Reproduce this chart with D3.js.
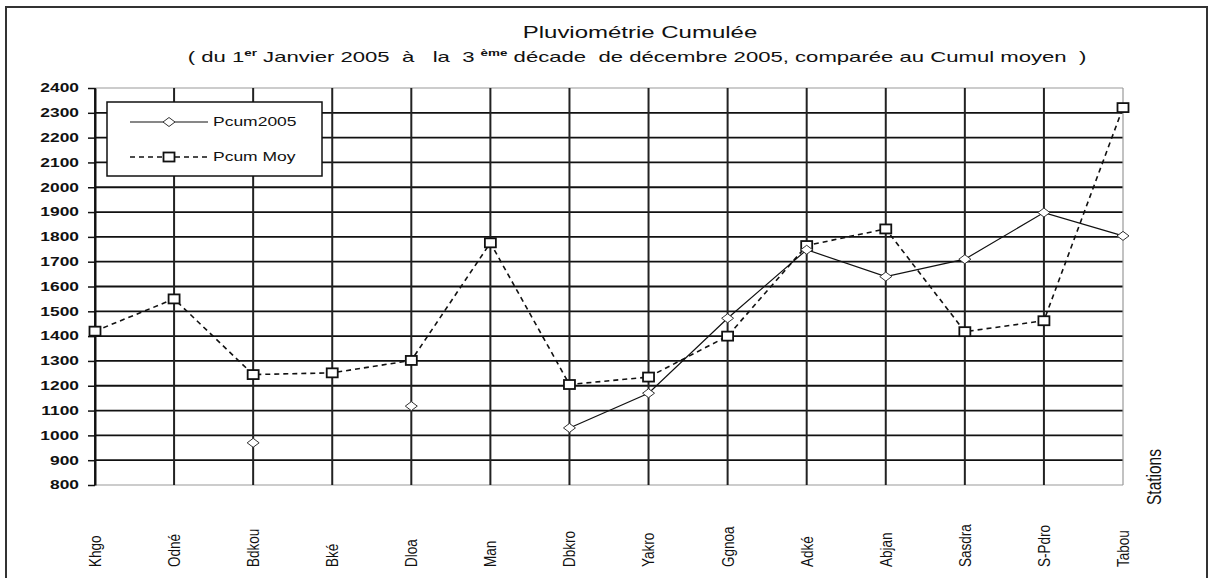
<!DOCTYPE html>
<html>
<head>
<meta charset="utf-8">
<script src="https://cdn.jsdelivr.net/npm/d3@7"></script>
<style>
  html, body { margin: 0; padding: 0; background: #fff; }
  svg { display: block; font-family: "Liberation Sans", Arial, sans-serif; }
</style>
</head>
<body>
<svg id="chart" width="1210" height="578"></svg>
<script>
const categories = ["Khgo","Odné","Bdkou","Bké","Dloa","Man","Dbkro","Yakro","Ggnoa","Adké","Abjan","Sasdra","S-Pdro","Tabou"];
const pcum2005 = [null, null, 970, null, 1118, null, 1030, 1170, 1472, 1748, 1640, 1710, 1898, 1804];
const pcumMoy = [1420, 1550, 1245, 1252, 1302, 1776, 1205, 1235, 1400, 1765, 1832, 1418, 1462, 2321];
const yTicks = [800, 900, 1000, 1100, 1200, 1300, 1400, 1500, 1600, 1700, 1800, 1900, 2000, 2100, 2200, 2300, 2400];
const seriesNames = ["Pcum2005", "Pcum Moy"];
const axisTitle = "Stations";
const titleText = "Pluviométrie Cumulée";

const SX = 1.45;
const svg = d3.select("#chart");

// outer frame
svg.append("rect").attr("x", 6).attr("y", 7).attr("width", 1201).attr("height", 580)
  .attr("fill", "#fff").attr("stroke", "#333").attr("stroke-width", 2);

const x = d3.scalePoint().domain(categories).range([95, 1123]);
const y = d3.scaleLinear().domain([800, 2400]).range([485, 88]);

// horizontal grid
svg.append("g").selectAll("line").data(yTicks).join("line")
  .attr("x1", 95).attr("x2", 1123)
  .attr("y1", d => y(d)).attr("y2", d => y(d))
  .attr("stroke", d => (d === 800 || d === 2400) ? "#999" : "#111")
  .attr("stroke-width", d => (d === 800 || d === 2400) ? 1.2 : 1.8);

// vertical grid
svg.append("g").selectAll("line").data(categories).join("line")
  .attr("x1", d => x(d)).attr("x2", d => x(d))
  .attr("y1", y(2400)).attr("y2", y(800))
  .attr("stroke", (d, i) => i === categories.length - 1 ? "#999" : "#222")
  .attr("stroke-width", (d, i) => i === categories.length - 1 ? 1.2 : 2);

// y axis
const yAxis = d3.axisLeft(y).tickValues(yTicks).tickFormat(d3.format("d"))
  .tickSize(7).tickSizeOuter(0).tickPadding(0);
const gy = svg.append("g").attr("transform", "translate(95,0)").call(yAxis);
gy.select(".domain").attr("stroke", "#111").attr("stroke-width", 2);
gy.selectAll(".tick line").attr("stroke", "#111").attr("stroke-width", 1.5);
gy.selectAll(".tick text")
  .attr("x", -16 / SX)
  .attr("transform", `scale(${SX},1)`)
  .attr("fill", "#111")
  .style("font-size", "12px")
  .style("font-weight", "bold")
  .style("font-family", "'Liberation Sans', Arial, sans-serif");

// x labels
svg.append("g").selectAll("g").data(categories).join("g")
  .attr("transform", d => `translate(${x(d)},567) scale(1.25,1)`)
  .append("text")
  .attr("transform", "rotate(-90)")
  .attr("dy", "0.35em")
  .attr("text-anchor", "start")
  .style("font-size", "13.5px")
  .attr("fill", "#111")
  .text(d => d);

// Stations
svg.append("g").attr("transform", "translate(1154,505) scale(1.3,1)")
  .append("text").attr("transform", "rotate(-90)").attr("dy", "0.35em")
  .attr("text-anchor", "start").style("font-size", "15.5px").attr("fill", "#111")
  .text(axisTitle);

// lines
const lineGen = d3.line()
  .defined(d => d.v !== null)
  .x(d => x(d.c)).y(d => y(d.v));
const d2005 = categories.map((c, i) => ({c, v: pcum2005[i]}));
const dMoy = categories.map((c, i) => ({c, v: pcumMoy[i]}));

svg.append("path").datum(dMoy).attr("d", lineGen)
  .attr("fill", "none").attr("stroke", "#111").attr("stroke-width", 1.6)
  .attr("stroke-dasharray", "5,4");
svg.append("path").datum(d2005).attr("d", lineGen)
  .attr("fill", "none").attr("stroke", "#111").attr("stroke-width", 1.2);

function diamond(g, cx, cy) {
  g.append("path").attr("d", `M${cx - 6},${cy} L${cx},${cy - 4.5} L${cx + 6},${cy} L${cx},${cy + 4.5} Z`)
    .attr("fill", "#fff").attr("stroke", "#333").attr("stroke-width", 1);
}
function square(g, cx, cy) {
  g.append("rect").attr("x", cx - 5.5).attr("y", cy - 4.5).attr("width", 11).attr("height", 9)
    .attr("fill", "#fff").attr("stroke", "#111").attr("stroke-width", 1.8);
}
const mk = svg.append("g");
dMoy.forEach(d => { if (d.v !== null) square(mk, x(d.c), y(d.v)); });
d2005.forEach(d => { if (d.v !== null) diamond(mk, x(d.c), y(d.v)); });

// legend
const lg = svg.append("g");
lg.append("rect").attr("x", 107).attr("y", 102).attr("width", 215).attr("height", 74)
  .attr("fill", "#fff").attr("stroke", "#111").attr("stroke-width", 1.5);
lg.append("line").attr("x1", 130).attr("x2", 208).attr("y1", 122).attr("y2", 122)
  .attr("stroke", "#111").attr("stroke-width", 1.2);
diamond(lg, 169, 122);
lg.append("line").attr("x1", 130).attr("x2", 208).attr("y1", 157).attr("y2", 157)
  .attr("stroke", "#111").attr("stroke-width", 1.6).attr("stroke-dasharray", "5,4");
square(lg, 169, 157);
seriesNames.forEach((s, i) => {
  lg.append("g").attr("transform", `translate(213,${122 + i * 35}) scale(1.4,1)`)
    .append("text").attr("dy", "0.35em").style("font-size", "12.5px").attr("fill", "#111").text(s);
});

// title
svg.append("g").attr("transform", "translate(640,38) scale(1.5,1)")
  .append("text").attr("text-anchor", "middle").style("font-size", "16px").attr("fill", "#111")
  .text(titleText);

const sub = svg.append("g").attr("transform", "translate(637,62) scale(1.58,1)")
  .append("text").attr("text-anchor", "middle").style("font-size", "14px").attr("fill", "#111")
  .attr("xml:space", "preserve");
sub.append("tspan").text("( du 1");
sub.append("tspan").attr("dy", -6).style("font-size", "8.5px").style("font-weight", "bold").text("er");
sub.append("tspan").attr("dy", 6).text(" Janvier 2005  à   la  3 ");
sub.append("tspan").attr("dy", -6).style("font-size", "8.5px").style("font-weight", "bold").text("ème");
sub.append("tspan").attr("dy", 6).text(" décade  de décembre 2005, comparée au Cumul moyen  )");
</script>
</body>
</html>
